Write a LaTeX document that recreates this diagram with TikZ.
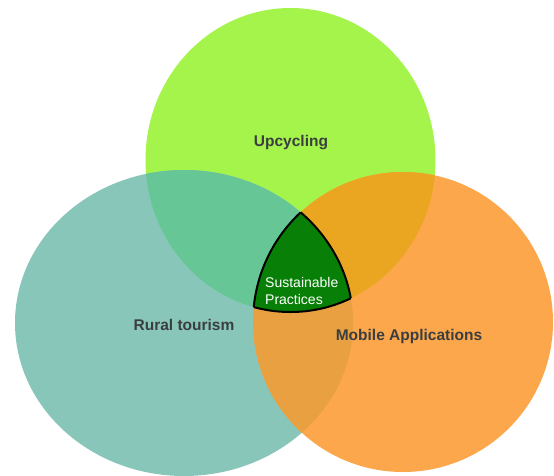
\documentclass[tikz,border=0pt]{standalone}
\usepackage{fontspec}
\setmainfont{Liberation Sans}
\usepackage{tikz}
\usetikzlibrary{positioning}
\definecolor{upgreen}{RGB}{165,244,76}
\definecolor{ruralteal}{RGB}{137,198,186}
\definecolor{mobileorange}{RGB}{252,167,75}
\definecolor{upteal}{RGB}{103,198,150}
\definecolor{uporange}{RGB}{234,166,32}
\definecolor{tealorange}{RGB}{232,160,64}
\definecolor{coregreen}{RGB}{8,128,8}
\definecolor{labelgray}{RGB}{58,62,64}
\tikzset{
  setlabel/.style={text=labelgray,font=\fontsize{15.5}{18}\selectfont\bfseries},
  corelabel/.style={text=white,align=left,inner sep=0pt,font=\fontsize{14}{17.5}\selectfont}
}
\newcommand{\upset}{(up) ellipse [x radius=145pt, y radius=152pt]}
\newcommand{\ruralset}{(rural) ellipse [x radius=169pt, y radius=153pt]}
\newcommand{\mobileset}{(mobile) ellipse [x radius=150pt, y radius=150pt]}

\begin{document}
\begin{tikzpicture}[x=1pt,y=-1pt]
\useasboundingbox (0,0) rectangle (554,475);
\coordinate (up) at (290.5,160);
\coordinate (rural) at (184,323);
\coordinate (mobile) at (403,322);
\fill[upgreen] \upset;
\fill[ruralteal] \ruralset;
\fill[mobileorange] \mobileset;
% overlaps
\begin{scope}
\clip \upset;
\fill[upteal] \ruralset;
\fill[uporange] \mobileset;
\end{scope}
\begin{scope}
\clip \ruralset;
\fill[tealorange] \mobileset;
\end{scope}
% middle region
\begin{scope}
\clip \upset;
\clip \ruralset;
\fill[coregreen] \mobileset;
\draw[line width=2pt] \mobileset;
\end{scope}
\begin{scope}
\clip \ruralset;
\clip \mobileset;
\draw[line width=2pt] \upset;
\end{scope}
\begin{scope}
\clip \upset;
\clip \mobileset;
\draw[line width=2pt] \ruralset;
\end{scope}
\node[setlabel] (upcycling) at (291,143) {Upcycling};
\node[setlabel] (tourism) at (184,325) {Rural tourism};
\node[setlabel] (apps) at (409,336) {Mobile Applications};
\node[corelabel,anchor=west] (practices) at (265,291) {Sustainable\\Practices};
\end{tikzpicture}
\end{document}
